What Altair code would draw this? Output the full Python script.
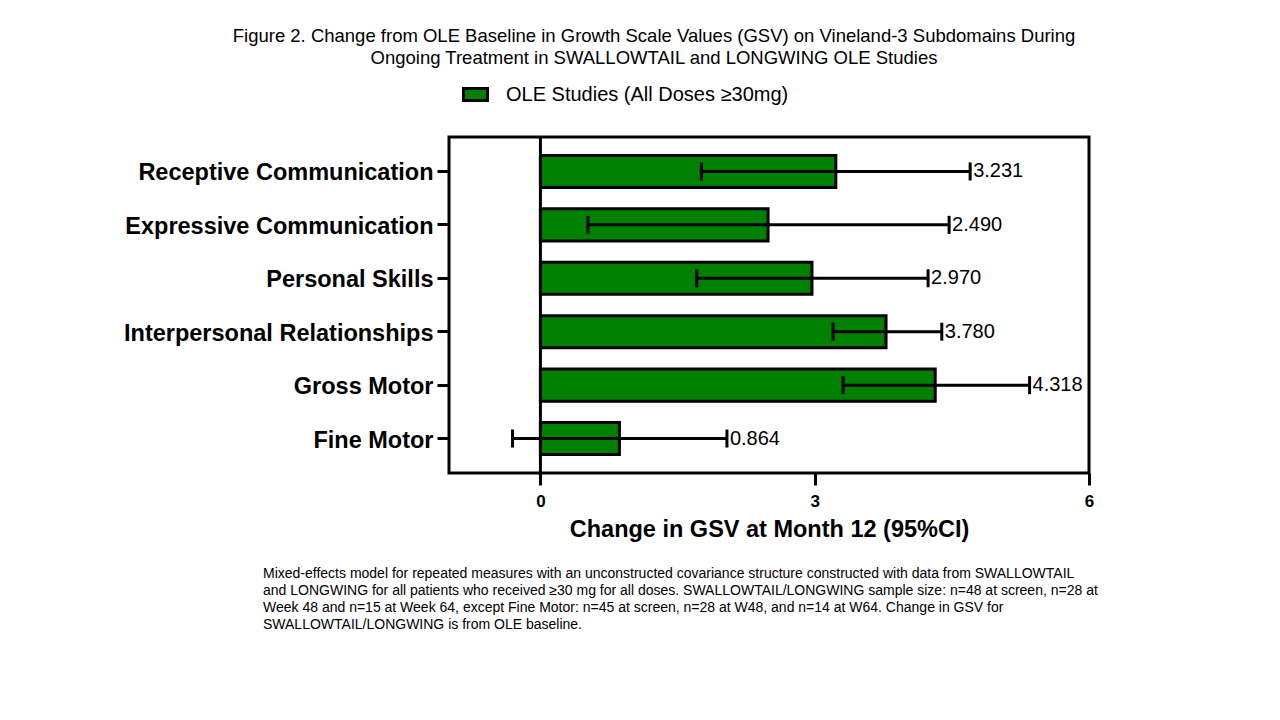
import altair as alt
import pandas as pd

categories = ["Receptive Communication", "Expressive Communication", "Personal Skills",
              "Interpersonal Relationships", "Gross Motor", "Fine Motor"]
values = [3.231, 2.490, 2.970, 3.780, 4.318, 0.864]
ci_low = [1.76, 0.52, 1.71, 3.20, 3.31, -0.305]
ci_high = [4.70, 4.47, 4.24, 4.39, 5.35, 2.04]
series_name = "OLE Studies (All Doses ≥30mg)"

title_lines = ["Figure 2. Change from OLE Baseline in Growth Scale Values (GSV) on Vineland-3 Subdomains During",
               "Ongoing Treatment in SWALLOWTAIL and LONGWING OLE Studies"]
footnote_lines = [
    "Mixed-effects model for repeated measures with an unconstructed covariance structure constructed with data from SWALLOWTAIL",
    "and LONGWING  for all patients who received ≥30 mg for all doses. SWALLOWTAIL/LONGWING  sample size:  n=48 at screen, n=28 at",
    "Week 48 and n=15 at Week 64, except Fine Motor: n=45 at screen, n=28 at W48, and n=14 at W64. Change in GSV for",
    "SWALLOWTAIL/LONGWING  is from OLE baseline.",
]

FONT = "Liberation Sans"

df = pd.DataFrame({
    "category": categories,
    "value": values,
    "lo": ci_low,
    "hi": ci_high,
    "series": [series_name] * len(categories),
})

yenc = alt.Y("category:N", sort=categories,
             scale=alt.Scale(paddingInner=0.4, paddingOuter=0.345),
             axis=alt.Axis(title=None, labelFontSize=23.5, labelFontWeight="bold", labelColor="black",
                           labelFont=FONT, tickSize=12, tickWidth=3, tickColor="black", domain=False,
                           labelPadding=4, labelLimit=500, labelOffset=2))
xscale = alt.Scale(domain=[-1, 6], nice=False, zero=False)

base = alt.Chart(df)

bars = base.mark_bar(stroke="black", strokeWidth=3).encode(
    x=alt.X("value:Q", scale=xscale,
            axis=alt.Axis(values=[0, 3, 6], grid=False, domain=False, tickSize=12, tickWidth=3,
                          tickColor="black", labelFontSize=17, labelFontWeight="bold", labelColor="black",
                          labelFont=FONT, labelPadding=8, format="d", labelFlush=False,
                          title="Change in GSV at Month 12 (95%CI)", titleFontSize=23.5,
                          titleFontWeight="bold", titleColor="black", titleFont=FONT, titlePadding=8)),
    x2=alt.datum(0),
    y=yenc,
    color=alt.Color("series:N", scale=alt.Scale(domain=[series_name], range=["#008000"]),
                    legend=alt.Legend(title=None, orient="none", legendX=13, legendY=-56,
                                      symbolType="M-1,-0.5L1,-0.5L1,0.5L-1,0.5Z", symbolSize=576,
                                      symbolStrokeColor="black", symbolStrokeWidth=3, symbolOpacity=1,
                                      labelFontSize=20, labelFont=FONT, labelColor="black",
                                      labelOffset=17, labelLimit=600, padding=0)),
)

err = base.mark_rule(color="black", strokeWidth=3).encode(
    x=alt.X("lo:Q", scale=xscale), x2="hi:Q", y=alt.Y("category:N", sort=categories))

cap_lo = base.mark_tick(color="black", thickness=3, size=18, opacity=1).encode(
    x=alt.X("lo:Q", scale=xscale), y=alt.Y("category:N", sort=categories))
cap_hi = base.mark_tick(color="black", thickness=3, size=18, opacity=1).encode(
    x=alt.X("hi:Q", scale=xscale), y=alt.Y("category:N", sort=categories))

labels = base.mark_text(align="left", baseline="middle", dx=3, fontSize=20, font=FONT,
                        color="black").encode(
    x=alt.X("hi:Q", scale=xscale), y=alt.Y("category:N", sort=categories),
    text=alt.Text("value:Q", format=".3f"))

zero = alt.Chart(pd.DataFrame({"z": [0]})).mark_rule(color="black", strokeWidth=3).encode(
    x=alt.X("z:Q", scale=xscale))

dummy = alt.Chart(pd.DataFrame({"d": [0]}))
title = dummy.mark_text(text=title_lines, align="center", baseline="middle", fontSize=18.5,
                        font=FONT, color="black", lineHeight=22).encode(
    x=alt.value(205), y=alt.value(-101))
foot = dummy.mark_text(text=footnote_lines, align="left", baseline="top", fontSize=14,
                       font=FONT, color="black", lineHeight=17).encode(
    x=alt.value(-186), y=alt.value(430))

chart = alt.layer(bars, zero, err, cap_lo, cap_hi, labels, title, foot).properties(
    width=640, height=336,
    autosize=alt.AutoSizeParams(type="none"),
    padding={"left": 441, "top": 129, "right": 183, "bottom": 239},
    background="white",
).configure_view(stroke="black", strokeWidth=3)

chart.save("out.html", embed_options={"renderer": "svg", "actions": False})
